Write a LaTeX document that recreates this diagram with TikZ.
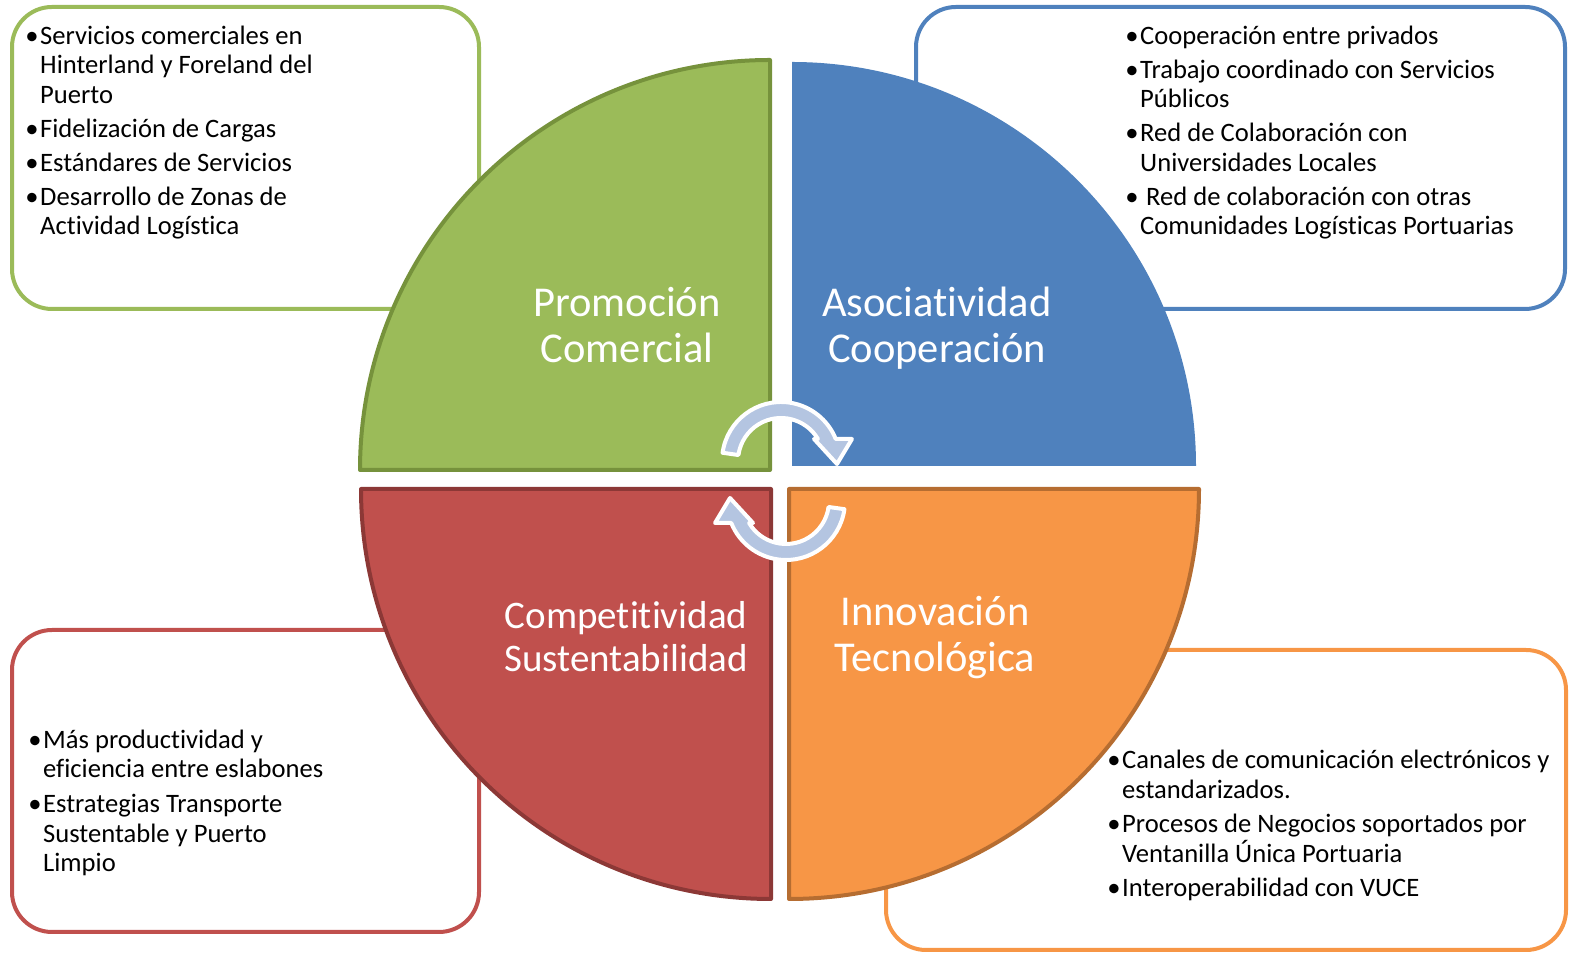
\documentclass[tikz,border=0pt]{standalone}
\usepackage{fontspec}
\setmainfont{Carlito}[Ligatures=NoCommon]
\usetikzlibrary{calc,positioning}
\definecolor{verde}{HTML}{9BBB59}
\definecolor{verdeosc}{HTML}{76923C}
\definecolor{azul}{HTML}{4F81BD}
\definecolor{rojo}{HTML}{C0504D}
\definecolor{rojoosc}{HTML}{8C3836}
\definecolor{naranja}{HTML}{F79646}
\definecolor{naranjaosc}{HTML}{B66D31}
\definecolor{celeste}{HTML}{B4C5E1}
\tikzset{
  cuadro/.style={draw, line width=4pt, rounded corners=40pt},
  sector/.style={line width=4pt, line join=round},
  titulo/.style={align=center, text=white, inner sep=0pt, font=\fontsize{42.5}{46}\selectfont},
  titulob/.style={titulo, font=\fontsize{39}{43}\selectfont},
  lista/.style={align=left, inner sep=0pt, anchor=base west, font=\fontsize{26.6}{29.5}\selectfont},
  flecha/.style={fill=celeste, draw=white, line width=4pt, line join=round}
}
\newcommand{\bul}{\llap{\textbullet\hspace{1.5pt}}}

\begin{document}
\begin{tikzpicture}[x=1pt,y=1pt]
\useasboundingbox (0,0) rectangle (1574,957);
\draw[cuadro, draw=verde] (12,648) rectangle (479,950);
\draw[cuadro, draw=azul] (916,648) rectangle (1565,950);
\draw[cuadro, draw=rojo] (12,25) rectangle (479,327);
\draw[cuadro, draw=naranja] (886,7) rectangle (1566,307);

\draw[sector, fill=verde, draw=verdeosc] (770,487) -- (360,487) arc[start angle=180, end angle=90, radius=410] -- cycle;
\fill[azul] (792,491) -- (792,895) arc[start angle=90, end angle=0, radius=404] -- cycle;
\draw[sector, fill=rojo, draw=rojoosc] (771,468) -- (361,468) arc[start angle=180, end angle=270, radius=410] -- cycle;
\draw[sector, fill=naranja, draw=naranjaosc] (789,468) -- (1199,468) arc[start angle=0, end angle=-90, radius=410] -- cycle;

\node[titulo] (promocion) at (627,632) {Promoción\\Comercial};
\node[titulo] (asociatividad) at (937,629) {Asociatividad\\Cooperación};
\node[titulob] (competitividad) at (626,320) {Competitividad\\Sustentabilidad};
\node[titulo] (innovacion) at (935,319) {Innovación\\Tecnológica};

\begin{scope}[shift={(781,496)}]
  \draw[flecha] (172:59) arc[start angle=172, end angle=21.9, radius=59] -- (71,22) -- (56,-3) -- (33,22) -- (30.8:43) arc[start angle=30.8, end angle=172, radius=43] -- cycle;
\end{scope}
\begin{scope}[shift={(786,456)}, rotate=180]
  \draw[flecha] (172:59) arc[start angle=172, end angle=21.9, radius=59] -- (71,22) -- (56,-3) -- (33,22) -- (30.8:43) arc[start angle=30.8, end angle=172, radius=43] -- cycle;
\end{scope}

\node[lista] (promo-lista) at (40,722) {\bul Servicios comerciales en\\Hinterland y Foreland del\\Puerto\\[4.5pt]
  \bul Fidelización de Cargas\\[4.5pt]
  \bul Estándares de Servicios\\[4.5pt]
  \bul Desarrollo de Zonas de\\Actividad Logística};
\node[lista] (asoc-lista) at (1140,722) {\bul Cooperación entre privados\\[4.5pt]
  \bul Trabajo coordinado con Servicios\\Públicos\\[4.5pt]
  \bul Red de Colaboración con\\Universidades Locales\\[4.5pt]
  \bul\ Red de colaboración con otras\\Comunidades Logísticas Portuarias};
\node[lista] (comp-lista) at (43,85) {\bul Más productividad y\\eficiencia entre eslabones\\[5.5pt]
  \bul Estrategias Transporte\\Sustentable y Puerto\\Limpio};
\node[lista] (innov-lista) at (1122,60) {\bul Canales de comunicación electrónicos y\\estandarizados.\\[5pt]
  \bul Procesos de Negocios soportados por\\Ventanilla Única Portuaria\\[5pt]
  \bul Interoperabilidad con VUCE};
\end{tikzpicture}
\end{document}
